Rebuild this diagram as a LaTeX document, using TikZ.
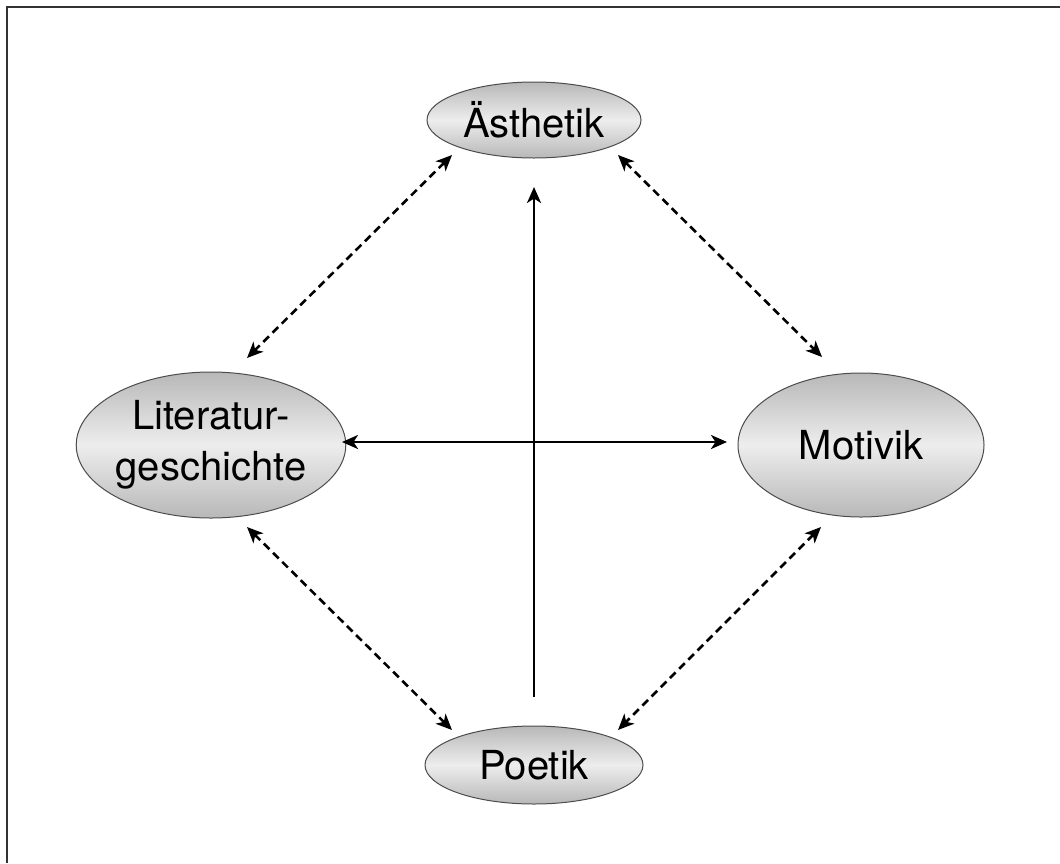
\documentclass[tikz,border=0pt]{standalone}
\usepackage{fontspec}
\setmainfont{TeX Gyre Heros}
\usetikzlibrary{shapes.geometric,arrows.meta}
\tikzset{
  tip/.tip={Stealth[length=16pt,width=14pt,inset=4.5pt]},
  oval/.style={ellipse, draw=black!70, line width=1pt, inner sep=0pt,
    top color=black!28, bottom color=black!28, middle color=black!7,
    font=\fontsize{40}{51}\selectfont, align=center},
  solidarrow/.style={line width=2.6pt, -tip},
  dasharrow/.style={line width=2.6pt, dash pattern=on 8pt off 5pt, tip-tip},
}
\begin{document}
\begin{tikzpicture}[x=1pt,y=-1pt]
\useasboundingbox (0,0) rectangle (1060,863);
\draw[line width=2.4pt, black!80] (7,863) -- (7,7) -- (1060,7);
\node[oval, minimum width=214pt, minimum height=76pt] (A) at (534,120) {Ästhetik};
\node[oval, minimum width=250pt, minimum height=146pt] (L) at (211,445) {Literatur-\\geschichte};
\node[oval, minimum width=246pt, minimum height=144pt] (M) at (861,445) {Motivik};
\node[oval, minimum width=218pt, minimum height=78pt] (P) at (534,765) {Poetik};
% solid arrows
\draw[solidarrow] ([shift={(0,-68)}]P.center) -- ([shift={(0,67)}]A.center);
\draw[solidarrow, tip-tip]
  ([shift={(131,-3)}]L.center) -- ([shift={(-134,-3)}]M.center);
% dashed arrows
\draw[dasharrow] ([shift={(-82,35)}]A.center) -- ([shift={(36,-87)}]L.center);
\draw[dasharrow] ([shift={(84,35)}]A.center) -- ([shift={(-39,-88)}]M.center);
\draw[dasharrow] ([shift={(36,82)}]L.center) -- ([shift={(-82,-35)}]P.center);
\draw[dasharrow] ([shift={(-40,82)}]M.center) -- ([shift={(84,-35)}]P.center);
\end{tikzpicture}
\end{document}
